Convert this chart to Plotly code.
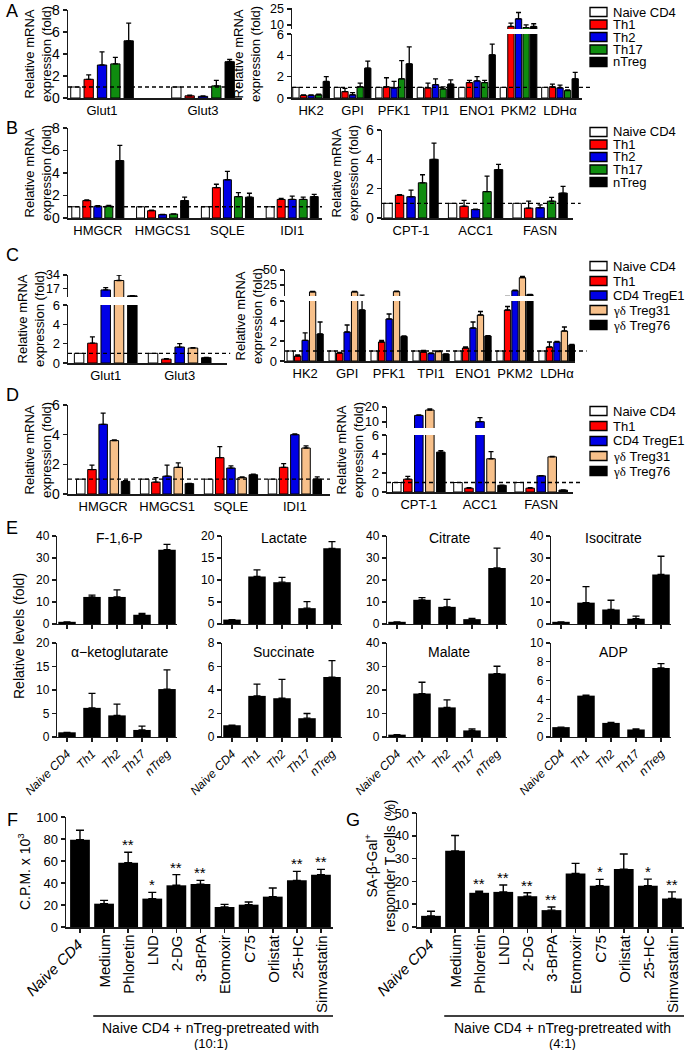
import plotly.graph_objects as go

W, H = 687, 1050
FONT = "Liberation Sans, Arial, sans-serif"
AX = "#1a1a1a"

# ---------------- data ----------------
TH_SERIES = ["Naive CD4", "Th1", "Th2", "Th17", "nTreg"]
TH_COLORS = ["#ffffff", "#ff0000", "#0000e6", "#0f8c0f", "#000000"]
TREG_SERIES = ["Naive CD4", "Th1", "CD4 TregE1", "γδ Treg31", "γδ Treg76"]
TREG_COLORS = ["#ffffff", "#ff0000", "#0000e6", "#f7c08a", "#000000"]

GLUT = ["Glut1", "Glut3"]
GLYCO = ["HK2", "GPI", "PFK1", "TPI1", "ENO1", "PKM2", "LDHα"]
CHOL = ["HMGCR", "HMGCS1", "SQLE", "IDI1"]
FATTY = ["CPT-1", "ACC1", "FASN"]

# Panel A (rows: Naive CD4, Th1, Th2, Th17, nTreg)
A_glut = [[1, 1], [1.7, 0.2], [3.0, 0.15], [3.1, 1.1], [5.2, 3.3]]
A_glut_err = [None, [0.4, 0.05], [1.2, 0.05], [0.6, 0.5], [1.6, 0.2]]
A_glyco = [[1, 1, 1, 1, 1, 1, 1],
           [0.25, 0.6, 1.05, 0.95, 1.45, 8.4, 1.05],
           [0.25, 0.3, 0.95, 1.25, 1.6, 15.7, 0.95],
           [0.3, 1.05, 1.8, 0.85, 1.45, 7.4, 0.7],
           [1.55, 2.8, 3.2, 1.3, 4.05, 8.4, 1.8]]
A_glyco_err = [None,
               [0.05, 0.3, 0.85, 0.45, 0.2, 3.2, 0.25],
               [0.05, 0.2, 0.6, 0.55, 0.4, 6.0, 0.25],
               [0.05, 0.35, 1.7, 0.2, 0.2, 2.6, 0.05],
               [0.45, 0.65, 1.6, 0.4, 1.0, 2.6, 0.6]]

# Panel B
B_chol = [[1, 1, 1, 1],
          [1.55, 0.65, 2.7, 1.65],
          [1.05, 0.3, 3.4, 1.65],
          [1.05, 0.35, 1.9, 1.65],
          [5.1, 1.55, 1.85, 1.9]]
B_chol_err = [None,
              [0.05, 0.05, 0.3, 0.1],
              [0.05, 0.02, 0.75, 0.3],
              [0.08, 0.02, 0.35, 0.2],
              [1.35, 0.3, 0.35, 0.2]]
B_fatty = [[1, 1, 1],
           [1.55, 0.8, 0.67],
           [1.45, 0.58, 0.7],
           [2.4, 1.8, 1.15],
           [4.0, 3.3, 1.7]]
B_fatty_err = [None,
               [0.05, 0.4, 0.48],
               [0.45, 0.03, 0.2],
               [0.55, 1.05, 0.25],
               [1.1, 0.35, 0.45]]

# Panel C (rows: Naive CD4, Th1, CD4 TregE1, gd Treg31, gd Treg76)
C_glut = [[1, 1], [2.05, 0.4], [15, 1.65], [27, 1.55], [7.5, 0.55]]
C_glut_err = [None, [0.65, 0.05], [3, 0.35], [7, 0.05], [0.3, 0.03]]
C_glyco = [[1, 1, 1, 1, 1, 1, 1],
           [0.5, 0.8, 1.9, 0.9, 1.3, 5.1, 1.4],
           [2.07, 2.9, 4.2, 0.75, 3.3, 15, 1.9],
           [13, 13, 13.5, 0.95, 4.6, 37, 3.0],
           [2.7, 5.1, 2.45, 0.7, 2.5, 8.3, 1.6]]
C_glyco_err = [None,
               [0.1, 0.05, 0.15, 0.15, 0.1, 0.35, 0.5],
               [0.75, 0.7, 0.5, 0.05, 0.6, 1, 0.05],
               [0.6, 0.6, 0.6, 0.05, 0.35, 2, 0.4],
               [1.2, 2.5, 0.05, 0.02, 0.03, 0.5, 0.05]]

# Panel D
D_chol = [[1, 1, 1, 1],
          [1.65, 0.8, 2.45, 1.8],
          [4.7, 1.2, 1.75, 4.0],
          [3.6, 1.8, 1.1, 3.1],
          [0.85, 0.7, 1.3, 1.0]]
D_chol_err = [None,
              [0.3, 0.3, 0.75, 0.25],
              [0.75, 0.75, 0.15, 0.05],
              [0.05, 0.3, 0.05, 0.15],
              [0.05, 0.02, 0.03, 0.15]]
D_fatty = [[1, 1, 1],
           [1.35, 0.4, 0.4],
           [14.4, 10.2, 1.7],
           [18, 3.5, 3.7],
           [4.2, 0.7, 0.2]]
D_fatty_err = [None,
               [0.3, 0.05, 0.05],
               [0.4, 2.7, 0.03],
               [0.8, 0.75, 0.05],
               [0.15, 0.03, 0.02]]

# Panel E (metabolites; values per group Naive CD4, Th1, Th2, Th17, nTreg)
E_titles = ["F-1,6-P", "Lactate", "Citrate", "Isocitrate",
            "α−ketoglutarate", "Succinate", "Malate", "ADP"]
E_vals = [[1, 12.3, 12.3, 4.2, 33.8],
          [1, 10.8, 9.5, 3.6, 17.2],
          [1, 11.0, 7.8, 2.2, 25.5],
          [1, 9.7, 6.6, 2.4, 22.5],
          [1, 6.2, 4.6, 1.5, 10.2],
          [1, 3.5, 3.3, 1.6, 5.1],
          [1, 18.5, 12.6, 2.8, 27.0],
          [1.05, 4.4, 1.5, 0.8, 7.35]]
E_errs = [[0, 0.8, 3.2, 0.6, 2.4],
          [0, 1.5, 1.1, 1.5, 1.5],
          [0, 1.0, 3.4, 0.4, 9.0],
          [0, 7.3, 4.2, 1.2, 8.3],
          [0, 3.1, 2.4, 0.8, 4.1],
          [0, 1.0, 1.6, 0.4, 1.4],
          [0, 4.8, 3.2, 0.7, 3.1],
          [0, 0.05, 0.05, 0.05, 0.45]]
E_ymax = [40, 20, 40, 40, 20, 8, 40, 10]
E_dtick = [10, 5, 10, 10, 5, 2, 10, 2]

# Panels F and G
FG_cats = ["Naive CD4", "Medium", "Phloretin", "LND", "2-DG", "3-BrPA",
           "Etomoxir", "C75", "Orlistat", "25-HC", "Simvastatin"]
F_vals = [79.4, 21.2, 58.5, 25.8, 37.9, 39, 18.2, 20.3, 27.6, 42.4, 47.6]
F_errs = [8.5, 3, 9.4, 5.7, 9.7, 3.4, 2.4, 2.4, 7.9, 8.2, 4.8]
F_stars = ["", "", "**", "*", "**", "**", "", "", "", "**", "**"]
G_vals = [4.9, 33.4, 15, 15.4, 13.5, 7.4, 23.5, 18.1, 25.4, 18.1, 12.5]
G_errs = [2.0, 6.7, 0.7, 3.0, 1.5, 1.4, 4.4, 2.8, 6.6, 2.9, 2.9]
G_stars = ["", "", "**", "**", "**", "**", "", "*", "", "*", "**"]

# ---------------- figure ----------------
fig = go.Figure()
axes_layout = {}
annotations = []
shapes = []
count = [0]


def add_axes(xpx, ypx, xrange, yrange, cats, ytickvals, xline=True,
             xlabels=None, xticks="", xtickangle=0, xfont=13, yfont=14, lw=1.5):
    count[0] += 1
    k = count[0]
    s = "" if k == 1 else str(k)
    xa = dict(domain=[xpx[0] / W, xpx[1] / W], anchor="y" + s, type="category",
              categoryorder="array", categoryarray=cats, range=xrange,
              showline=xline, linecolor=AX, linewidth=lw, automargin=False,
              ticks=xticks, ticklen=4, tickwidth=lw, tickcolor=AX,
              showgrid=False, zeroline=False, tickangle=xtickangle,
              tickfont=dict(size=xfont, color="black", family=FONT), fixedrange=True)
    if xlabels is None:
        xa["showticklabels"] = False
    else:
        xa.update(tickmode="array", tickvals=cats, ticktext=xlabels)
    ya = dict(domain=[1 - ypx[1] / H, 1 - ypx[0] / H], anchor="x" + s, range=yrange,
              showline=True, linecolor=AX, linewidth=lw, ticks="outside", ticklen=4,
              tickwidth=lw, tickcolor=AX, tickmode="array", tickvals=ytickvals,
              showgrid=False, zeroline=False, automargin=False,
              tickfont=dict(size=yfont, color="black", family=FONT), fixedrange=True)
    axes_layout["xaxis" + s] = xa
    axes_layout["yaxis" + s] = ya
    return "x" + s, "y" + s


def add_bars(xr, yr, cats, vals, errs, colors, pitch, bw):
    n = len(vals)
    for i in range(n):
        off = (i - (n - 1) / 2) * pitch - bw / 2
        e = errs[i]
        fig.add_trace(go.Bar(
            x=cats, y=vals[i], xaxis=xr, yaxis=yr, offset=off, width=bw,
            marker=dict(color=colors[i], line=dict(color="black", width=1)),
            error_y=dict(type="data", symmetric=False,
                         array=e if e is not None else [0] * len(cats),
                         arrayminus=[0] * len(cats), color="black",
                         thickness=1.3, width=2.5, visible=e is not None),
            showlegend=False, hoverinfo="skip"))


def dashed(xr, yr, extend):
    shapes.append(dict(type="line", xref=xr + " domain", yref=yr, x0=0, x1=1 + extend,
                       y0=1, y1=1, line=dict(color="black", width=1.3, dash="4px,3px")))


def text(x, y, s, size=13, angle=0, xa="center", ya="middle"):
    annotations.append(dict(x=x / W, y=1 - y / H, xref="paper", yref="paper", text=s,
                            showarrow=False, textangle=angle, xanchor=xa, yanchor=ya,
                            font=dict(size=size, family=FONT, color="black")))


def legend(x, ys, names, colors):
    for yy, nm, c in zip(ys, names, colors):
        shapes.append(dict(type="rect", xref="paper", yref="paper",
                           x0=x / W, x1=(x + 17) / W, y0=1 - (yy + 4.5) / H, y1=1 - (yy - 4.5) / H,
                           fillcolor=c, line=dict(color="black", width=1.3)))
        text(x + 21, yy, nm, size=13, xa="left")


def simple_panel(xpx, ypx, cats, rng, ymax, vals, errs, colors, pitch, bw, extend):
    xr, yr = add_axes(xpx, ypx, rng, [0, ymax], cats, list(range(0, ymax + 1, 2)),
                      xlabels=cats)
    add_bars(xr, yr, cats, vals, errs, colors, pitch, bw)
    dashed(xr, yr, extend)


def broken_panel(xpx, ylow, yup, cats, rng, uprange, uptick, vals, errs, colors, pitch, bw, extend):
    xr, yr = add_axes(xpx, ylow, rng, [0, 6], cats, [0, 2, 4, 6], xlabels=cats, yfont=13)
    add_bars(xr, yr, cats, vals, errs, colors, pitch, bw)
    dashed(xr, yr, extend)
    xr2, yr2 = add_axes(xpx, yup, rng, uprange, cats, uptick, xline=False, yfont=12.5)
    add_bars(xr2, yr2, cats, vals, errs, colors, pitch, bw)


def ytitle(x, y, size=13):
    text(x, y, "Relative mRNA<br>expression (fold)", size=size, angle=-90)


# ---- A ----
simple_panel((68, 242), (10, 98), GLUT, [-0.337, 1.386], 8, A_glut, A_glut_err,
             TH_COLORS, 0.132, 0.092, 0.0)
broken_panel((292, 582), (34, 98), (8, 29), GLYCO, [-0.46, 6.53], [6, 26], [10, 25],
             A_glyco, A_glyco_err, TH_COLORS, 0.183, 0.152, 0.03)
legend(590, [12, 24.5, 37, 49.5, 62], TH_SERIES, TH_COLORS)
ytitle(38, 54)
ytitle(247, 54)
text(4, 11, "A", size=18, xa="left")

# ---- B ----
simple_panel((68, 322), (128, 218), CHOL, [-0.46, 3.46], 8, B_chol, B_chol_err,
             TH_COLORS, 0.17, 0.123, 0.0)
simple_panel((382, 573), (130, 218), FATTY, [-0.45, 2.51], 6, B_fatty, B_fatty_err,
             TH_COLORS, 0.178, 0.13, 0.04)
legend(590, [132, 144.5, 157, 169.5, 182], TH_SERIES, TH_COLORS)
ytitle(38, 173)
ytitle(345, 173)
text(4, 128, "B", size=18, xa="left")

# ---- C ----
gd = '<span style="font-family:Liberation Serif">γδ</span>'
treg_labels = ["Naive CD4", "Th1", "CD4 TregE1", gd + " Treg31", gd + " Treg76"]
broken_panel((68, 227), (305, 363), (275, 297), GLUT, [-0.51, 1.64], [6, 34], [17, 34],
             C_glut, C_glut_err, TREG_COLORS, 0.18, 0.128, 0.02)
broken_panel((285, 575), (301, 361), (270, 296), GLYCO, [-0.48, 6.43], [6, 50], [25, 50],
             C_glyco, C_glyco_err, TREG_COLORS, 0.178, 0.15, 0.04)
legend(590, [266, 281, 295.5, 310, 325], treg_labels, TREG_COLORS)
ytitle(31, 319)
ytitle(249, 316)
text(4, 255, "C", size=18, xa="left")

# ---- D ----
simple_panel((68, 330), (405, 494), CHOL, [-0.55, 3.55], 6, D_chol, D_chol_err,
             TREG_COLORS, 0.175, 0.133, 0.0)
broken_panel((387, 573), (435, 492), (407, 428), FATTY, [-0.52, 2.52], [6, 20], [10, 20],
             D_fatty, D_fatty_err, TREG_COLORS, 0.18, 0.139, 0.04)
legend(590, [411, 426, 441, 456, 471], treg_labels, TREG_COLORS)
ytitle(38, 450)
ytitle(350, 450)
text(4, 395, "D", size=18, xa="left")

# ---- E ----
cols = [(57, 177), (222, 342), (387, 507), (551, 671)]
rows = [(536, 624), (643, 737)]
for idx in range(8):
    r, c = divmod(idx, 4)
    ymax, dt = E_ymax[idx], E_dtick[idx]
    xr, yr = add_axes(cols[c], rows[r], [-0.4, 4.4], [0, ymax], TH_SERIES,
                      list(range(0, ymax + 1, dt)), xticks="outside",
                      xlabels=[f"<i>{s}</i>" for s in TH_SERIES] if r == 1 else None,
                      xtickangle=-45, xfont=12, yfont=12, lw=1.2)
    fig.add_trace(go.Bar(
        x=TH_SERIES, y=E_vals[idx], xaxis=xr, yaxis=yr, width=0.7,
        marker=dict(color="black", line=dict(color="black", width=0)),
        error_y=dict(type="data", symmetric=False, array=E_errs[idx],
                     arrayminus=[0] * 5, color="black", thickness=1.3, width=3.5),
        showlegend=False, hoverinfo="skip"))
    tx = (cols[c][0] + cols[c][1]) / 2 + 2
    ty = rows[r][0] + 2 + (7 if r == 1 else 0)
    text(tx, ty, E_titles[idx], size=14)
text(19, 636, "Relative levels (fold)", size=14, angle=-90)
text(4, 528, "E", size=18, xa="left")


# ---- F & G ----
def fg_panel(xpx, ypx, ymax, dt, vals, errs, stars):
    xr, yr = add_axes(xpx, ypx, [-0.58, 10.5], [0, ymax], FG_cats,
                      list(range(0, ymax + 1, dt)), xticks="outside", yfont=13)
    fig.add_trace(go.Bar(
        x=FG_cats, y=vals, xaxis=xr, yaxis=yr, width=0.82,
        marker=dict(color="black", line=dict(color="black", width=0)),
        error_y=dict(type="data", symmetric=False, array=errs,
                     arrayminus=[0] * len(vals), color="black", thickness=1.4, width=4),
        showlegend=False, hoverinfo="skip"))
    for cat, v, e, st in zip(FG_cats, vals, errs, stars):
        if st:
            annotations.append(dict(x=cat, y=v + e, xref=xr, yref=yr, text=st,
                                    showarrow=False, yanchor="bottom", yshift=-3,
                                    font=dict(size=15, family=FONT, color="black")))
    ybot = 1 - (ypx[1] + 6) / H
    for i, cat in enumerate(FG_cats):
        if i == 0:
            annotations.append(dict(x=cat, y=ybot, xref=xr, yref="paper",
                                    text="<i>Naive CD4</i>", showarrow=False,
                                    textangle=-45, xanchor="right", yanchor="top",
                                    xshift=9,
                                    font=dict(size=15, family=FONT, color="black")))
        else:
            annotations.append(dict(x=cat, y=ybot, xref=xr, yref="paper", text=cat,
                                    showarrow=False, textangle=-90, xanchor="center",
                                    yanchor="top",
                                    font=dict(size=15, family=FONT, color="black")))
    shapes.append(dict(type="line", xref=xr, yref="paper", x0=0.55, x1=10.5,
                       y0=1 - 1016 / H, y1=1 - 1016 / H, line=dict(color="black", width=1.3)))
    return xr, yr


fg_panel((66, 333), (817, 927), 100, 20, F_vals, F_errs, F_stars)
text(211, 1028, "Naive CD4 + nTreg-pretreated with", size=14)
text(211, 1043, "(10:1)", size=13)
text(24, 872, "C.P.M. x 10<sup>3</sup>", size=14, angle=-90)
text(5, 820, "F", size=18, xa="left")

fg_panel((417, 684), (813, 927), 50, 10, G_vals, G_errs, G_stars)
text(562, 1028, "Naive CD4 + nTreg-pretreated with", size=14)
text(562, 1043, "(4:1)", size=13)
text(380, 866, "SA-β-Gal<sup>+</sup><br>responder T cells (%)", size=14, angle=-90)
text(344, 820, "G", size=18, xa="left")

fig.update_layout(
    template="none",
    width=W, height=H, margin=dict(l=0, r=0, t=0, b=0, pad=0, autoexpand=False),
    paper_bgcolor="white", plot_bgcolor="white",
    font=dict(family=FONT, color="black"),
    barmode="overlay", showlegend=False,
    annotations=annotations, shapes=shapes, **axes_layout)

fig.write_html("out.html", config={"displayModeBar": False, "staticPlot": True},
               post_script="document.body.style.margin='0';document.body.style.overflow='hidden';")
